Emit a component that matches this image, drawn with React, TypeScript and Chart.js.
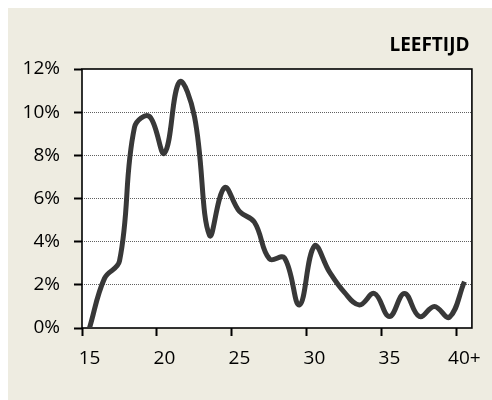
import React, { useEffect, useRef } from "react";
import { Chart, registerables } from "chart.js";

Chart.register(...registerables);

const categories: string[] = [
  "15", "16", "17", "18", "19", "20", "21", "22", "23", "24",
  "25", "26", "27", "28", "29", "30", "31", "32", "33", "34",
  "35", "36", "37", "38", "39", "40+",
];

const shareValues: number[] = [
  0.0, 2.3, 3.1, 9.3, 9.8, 8.1, 11.4, 9.8, 4.3, 6.5,
  5.4, 4.9, 3.2, 3.25, 1.07, 3.8, 2.6, 1.65, 1.07, 1.6,
  0.53, 1.6, 0.53, 1.0, 0.5, 2.15,
];

const yTicks: number[] = [0, 2, 4, 6, 8, 10, 12];

const titleText = "LEEFTIJD";

const FONT = "'Open Sans', 'Noto Sans', sans-serif";

export default function App() {
  const canvasRef = useRef<HTMLCanvasElement | null>(null);

  useEffect(() => {
    const canvas = canvasRef.current;
    if (!canvas) return;

    const framePlugin = {
      id: "frame",
      beforeDraw(chart: any) {
        const { ctx, chartArea } = chart;
        ctx.save();
        ctx.fillStyle = "#ffffff";
        ctx.fillRect(chartArea.left, chartArea.top, chartArea.right - chartArea.left, chartArea.bottom - chartArea.top);
        ctx.restore();
      },
      beforeDatasetsDraw(chart: any) {
        const { ctx, chartArea } = chart;
        ctx.save();
        ctx.strokeStyle = "#000000";
        ctx.lineWidth = 1.6;
        ctx.strokeRect(chartArea.left, chartArea.top, chartArea.right - chartArea.left, chartArea.bottom - chartArea.top);
        ctx.restore();
      },
      afterDraw(chart: any) {
        const { ctx } = chart;
        ctx.save();
        ctx.font = `bold 19px ${FONT}`;
        ctx.fillStyle = "#000000";
        ctx.textAlign = "right";
        ctx.textBaseline = "middle";
        ctx.fillText(titleText, 461.5, 37.5);
        ctx.restore();
      },
    };

    const chart = new Chart(canvas, {
      type: "line",
      data: {
        labels: categories,
        datasets: [
          {
            data: shareValues,
            borderColor: "#383838",
            borderWidth: 5,
            pointRadius: 0,
            tension: 0.4,
            fill: false,
          },
        ],
      },
      options: {
        responsive: false,
        animation: false,
        maintainAspectRatio: false,
        layout: { padding: { top: 61, right: 15, left: 0, bottom: 0 } },
        plugins: {
          legend: { display: false },
          title: { display: false },
          tooltip: { enabled: false },
        },
        scales: {
          x: {
            type: "category",
            offset: true,
            afterFit: (s: any) => {
              s.height = 72;
            },
            grid: {
              offset: true,
              drawOnChartArea: false,
              drawTicks: true,
              tickLength: 8,
              tickWidth: 2,
              tickColor: (ctx: any) => (ctx.index % 5 === 0 && ctx.index < categories.length ? "#000000" : "rgba(0,0,0,0)"),
            },
            border: { display: false },
            ticks: {
              autoSkip: false,
              maxRotation: 0,
              padding: 11,
              color: "#000000",
              font: { family: FONT, size: 19 },
              callback: (_v: any, i: number) => (i % 5 === 0 ? categories[i] : ""),
            },
          },
          y: {
            min: 0,
            max: 12,
            afterFit: (s: any) => {
              s.width = 74;
            },
            afterBuildTicks: (s: any) => {
              s.ticks = yTicks.map((v) => ({ value: v }));
            },
            grid: {
              color: (ctx: any) => (ctx.tick && (ctx.tick.value === 0 || ctx.tick.value === 12) ? "rgba(0,0,0,0)" : "#606060"),
              lineWidth: 1,
              tickLength: 8,
              tickWidth: 2,
              tickColor: "#000000",
              tickBorderDash: [],
            } as any,
            border: { display: false, dash: [1, 1] } as any,
            ticks: {
              padding: 14,
              color: "#000000",
              font: { family: FONT, size: 19 },
              callback: (v: any) => `${v}%`,
            },
          },
        },
      },
      plugins: [framePlugin],
    } as any);

    return () => {
      chart.destroy();
    };
  }, []);

  return (
    <div style={{ position: "fixed", left: 8, top: 8, right: 0, bottom: 0, background: "#EEECE1", overflow: "hidden" }}>
      <canvas ref={canvasRef} width={484} height={392} style={{ display: "block" }} />
    </div>
  );
}
